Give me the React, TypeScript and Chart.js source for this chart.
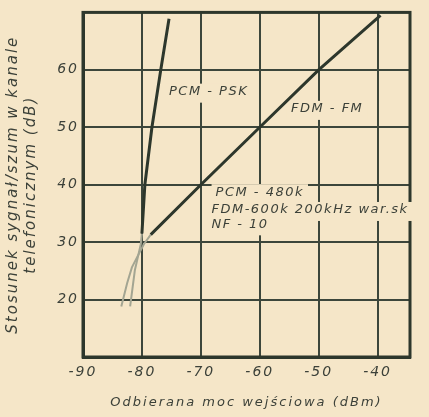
import { useEffect, useRef } from "react";
import { Chart, registerables } from "chart.js";
Chart.register(...registerables);

// ---- data ----
const xTicks = [-90, -80, -70, -60, -50, -40];
const yTicks = [20, 30, 40, 50, 60];

const fdmFmX = [-83.5, -82.5, -81.7, -79.7, -78.5, -70, -60, -50, -39.5];
const fdmFmY = [18.8, 22.9, 25.6, 29.6, 31.3, 40, 50, 60, 69.5];

const pcmPskX = [-82.0, -81.2, -80.2, -80.0, -79.5, -78.3, -76.8, -75.4];
const pcmPskY = [18.8, 25.1, 29.6, 31.5, 40, 50, 60, 68.9];

const xTitle = "Odbierana moc wejściowa (dBm)";
const yTitle = ["Stosunek sygnał/szum w kanale", "telefonicznym (dB)"];

const labelTexts = ["PCM - PSK", "FDM - FM", "PCM - 480k", "FDM-600k 200kHz war.sk", "NF - 10"];
const labelX = [-75.4, -54.7, -67.5, -68.2, -68.2];
const labelY = [56.2, 53.2, 38.7, 35.6, 33.1];

// ---- styles ----
const PAPER = "#f5e6c8";
const INK = "#2d372c";
const FADED = "#a3a592";
const GRID = "#3c463b";
const TEXT = "#3c4139";
const FONT = "'DejaVu Sans', sans-serif";

const toPts = (xs: number[], ys: number[]) => xs.map((x, i) => ({ x, y: ys[i] }));

const spacingPlugin = {
  id: "spacing",
  beforeDraw(chart: any) {
    chart.ctx.letterSpacing = "2px";
  },
};

const frameLabelPlugin = {
  id: "frameLabels",
  beforeDatasetsDraw(chart: any) {
    const { ctx, chartArea: a, scales } = chart;
    ctx.save();
    ctx.strokeStyle = INK;
    ctx.lineWidth = 3;
    ctx.strokeRect(a.left, a.top, a.right - a.left, a.bottom - a.top);
    ctx.font = `italic 13px ${FONT}`;
    (ctx as any).letterSpacing = "1.5px";
    ctx.textAlign = "left";
    ctx.textBaseline = "middle";
    labelTexts.forEach((t, i) => {
      const px = scales.x.getPixelForValue(labelX[i]);
      const py = scales.y.getPixelForValue(labelY[i]);
      const w = ctx.measureText(t).width;
      ctx.fillStyle = PAPER;
      ctx.fillRect(px - 4, py - 8, w + 8, 19);
      ctx.fillStyle = TEXT;
      ctx.fillText(t, px, py);
    });
    ctx.restore();
  },
};

export default function App() {
  const ref = useRef<HTMLCanvasElement>(null);
  useEffect(() => {
    if (!ref.current) return;
    const seg = {
      borderColor: (c: any) => (c.p1.parsed.y < 32 ? FADED : INK),
      borderWidth: (c: any) => (c.p1.parsed.y < 32 ? 2 : 3),
    };
    const chart = new Chart(ref.current, {
      type: "scatter",
      data: {
        datasets: [
          {
            label: "FDM-FM",
            data: toPts(fdmFmX, fdmFmY),
            showLine: true,
            borderColor: INK,
            borderWidth: 3,
            pointRadius: 0,
            tension: 0,
            segment: seg,
          },
          {
            label: "PCM-PSK",
            data: toPts(pcmPskX, pcmPskY),
            showLine: true,
            borderColor: INK,
            borderWidth: 3,
            pointRadius: 0,
            tension: 0,
            segment: seg,
          },
        ],
      } as any,
      options: {
        animation: false,
        responsive: false,
        layout: { padding: { top: 5, right: 19, left: 0, bottom: 0 } },
        plugins: { legend: { display: false }, tooltip: { enabled: false } },
        scales: {
          x: {
            type: "linear",
            min: -90,
            max: -34.5,
            afterBuildTicks: (s: any) => {
              s.ticks = xTicks.map((v) => ({ value: v }));
            },
            afterFit: (s: any) => {
              s.height = 60;
            },
            grid: { color: GRID, lineWidth: 2, drawTicks: false },
            border: { display: true, color: INK, width: 3 },
            ticks: {
              color: TEXT,
              padding: 7,
              font: { family: FONT, size: 14, style: "italic" },
            },
            title: {
              display: true,
              text: xTitle,
              color: TEXT,
              font: { family: FONT, size: 13, style: "italic", lineHeight: 1.2 },
              padding: { top: 0, bottom: 7 },
            },
          },
          y: {
            type: "linear",
            min: 10,
            max: 70,
            afterBuildTicks: (s: any) => {
              s.ticks = yTicks.map((v) => ({ value: v }));
            },
            afterFit: (s: any) => {
              s.width = 83;
            },
            grid: { color: GRID, lineWidth: 2, drawTicks: false },
            border: { display: true, color: INK, width: 3 },
            ticks: {
              color: TEXT,
              padding: 4,
              font: { family: FONT, size: 14, style: "italic" },
            },
            title: {
              display: true,
              text: yTitle,
              color: TEXT,
              font: { family: FONT, size: 15, style: "italic", lineHeight: 1.2 },
              padding: { top: 4, bottom: 0 },
            },
          },
        },
      } as any,
      plugins: [spacingPlugin, frameLabelPlugin],
    });
    return () => chart.destroy();
  }, []);
  return (
    <div
      style={{
        position: "fixed",
        left: 0,
        top: 0,
        width: 429,
        height: 417,
        background: PAPER,
      }}
    >
      <canvas ref={ref} width={429} height={417} style={{ display: "block" }} />
    </div>
  );
}
